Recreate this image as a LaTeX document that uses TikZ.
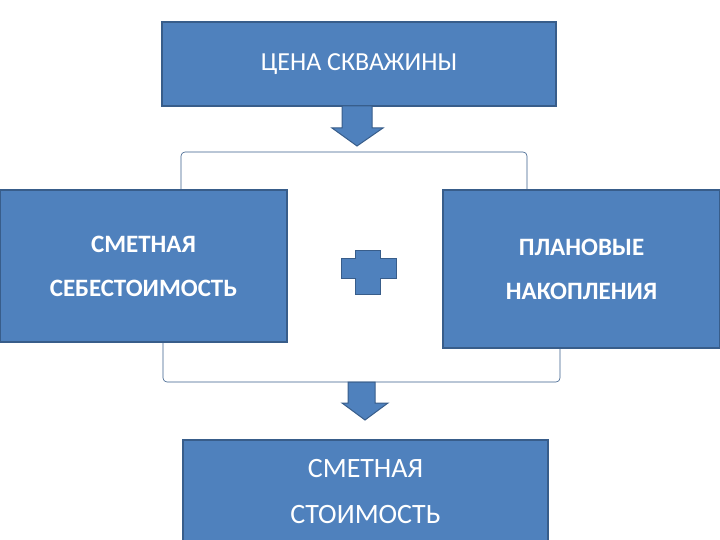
\documentclass[tikz,border=0pt]{standalone}
\usepackage{fontspec}
\setmainfont{Carlito}
\begin{document}
\begin{tikzpicture}[x=1pt,y=-1pt]
\definecolor{bfill}{HTML}{4F81BD}
\definecolor{bline}{HTML}{385D8A}
\tikzset{box/.style={draw=bline,line width=1.2pt,fill=bfill,text=white,align=center,inner sep=0pt},
 brk/.style={draw=bline,line width=0.6pt,rounded corners=4pt},
 blk/.style={fill=bfill,draw=bline,line width=1pt}}
\useasboundingbox (0,0) rectangle (720,540);
\node[box,minimum width=394pt,minimum height=84pt,font=\fontsize{26}{30}\selectfont] (top) at (359,64) {ЦЕНА СКВАЖИНЫ};
\node[box,minimum width=287pt,minimum height=152pt,font=\bfseries\fontsize{25}{44}\selectfont] (left) at (143.5,266) {СМЕТНАЯ\\СЕБЕСТОИМОСТЬ};
\node[box,minimum width=277pt,minimum height=158pt,font=\bfseries\fontsize{25}{44}\selectfont] (right) at (581.5,269) {ПЛАНОВЫЕ\\НАКОПЛЕНИЯ};
\node[box,minimum width=365pt,minimum height=104pt,font=\fontsize{28}{46}\selectfont] (bot) at (365.5,492) {СМЕТНАЯ\\СТОИМОСТЬ};
\coordinate (b1) at (181,190); \coordinate (b2) at (527,190);
\draw[brk] (b1) -- (181,152) -- (527,152) -- (b2);
\coordinate (b3) at (163,342); \coordinate (b4) at (560,348);
\draw[brk] (b3) -- (163,382) -- (560,382) -- (b4);
\draw[blk] (342,106) -- (372,106) -- (372,128) -- (383,128) -- (357,146) -- (332,128) -- (342,128) -- cycle;
\draw[blk] (348,382) -- (375,382) -- (375,403) -- (388,403) -- (365,420) -- (342,403) -- (348,403) -- cycle;
\draw[blk] (355,250) -- (380,250) -- (380,258) -- (396,258) -- (396,278) -- (380,278) -- (380,294) -- (355,294) -- (355,278) -- (341,278) -- (341,258) -- (355,258) -- cycle;
\end{tikzpicture}
\end{document}
